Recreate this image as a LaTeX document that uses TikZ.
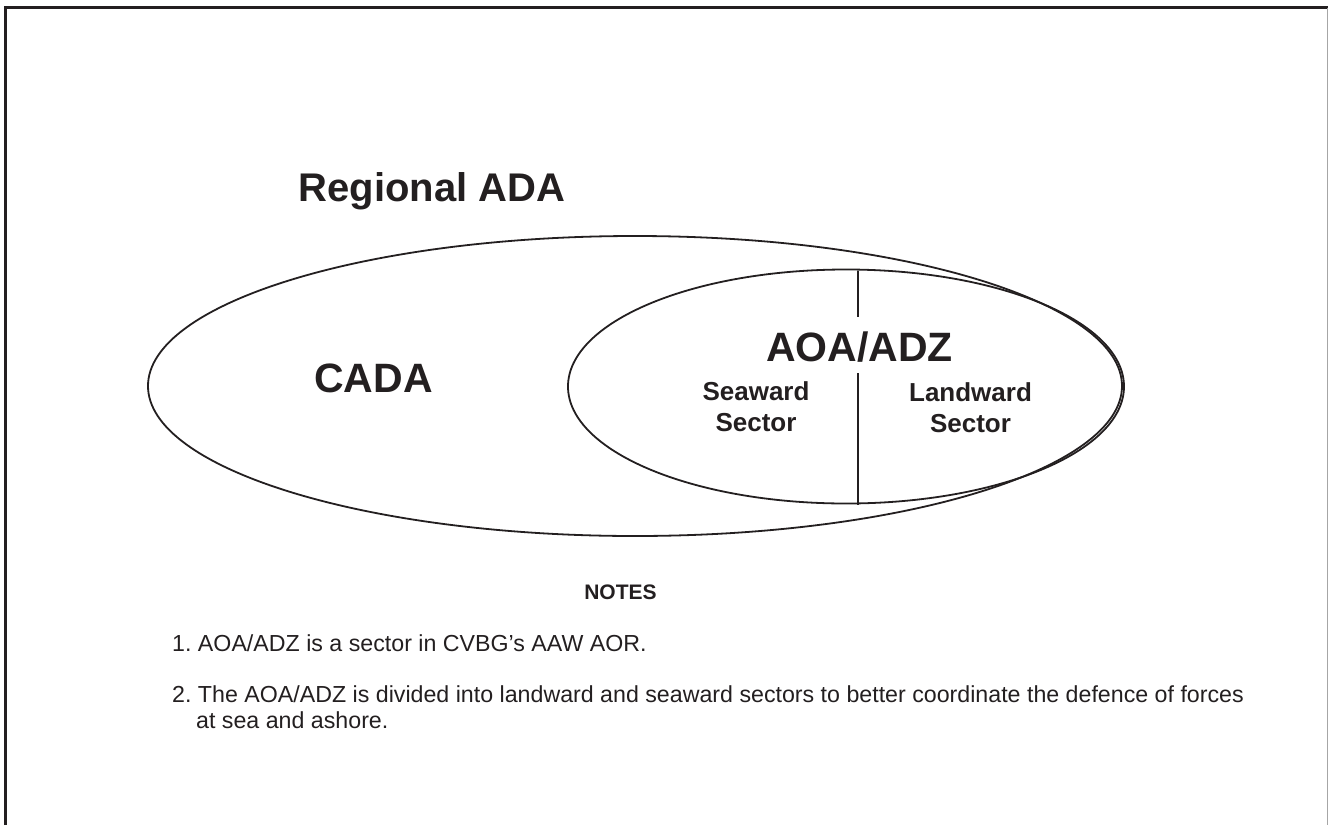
\documentclass[tikz,border=0pt]{standalone}
\usepackage{fontspec}
\setmainfont{Liberation Sans}
\usetikzlibrary{shapes.geometric}
\definecolor{ink}{HTML}{231F20}
\frenchspacing
\begin{document}
\begin{tikzpicture}[x=1pt,y=-1pt,
  zone/.style={ellipse,draw=ink,line width=1.8pt,inner sep=0pt},
  biglabel/.style={font=\fontsize{41}{45}\selectfont\bfseries,text=ink,inner sep=0pt,anchor=base},
  sectorlabel/.style={font=\fontsize{26}{31}\selectfont\bfseries,text=ink,inner sep=0pt,align=center,anchor=base},
  note/.style={font=\fontsize{23.2}{26}\selectfont,text=ink,inner sep=0pt,anchor=base west}]
  \useasboundingbox (0,0) rectangle (1328,825);
  % page frame
  \draw[line width=3pt,color=ink] (5.5,825) -- (5.5,7.5) -- (1328,7.5);
  \draw[line width=1pt,color=black!35] (1327,7.5) -- (1327,825);

  % nested areas
  \node[zone,minimum width=974pt,minimum height=300pt] (ada) at (635,386) {};
  \node[zone,minimum width=556pt,minimum height=234pt] (aoa) at (846,386.5) {};

  % seaward / landward divider
  \coordinate (dtop) at (858,271);
  \coordinate (dgapa) at (858,317);
  \coordinate (dgapb) at (858,373);
  \coordinate (dbot) at (858,505);
  \draw[ink,line width=1.8pt] (dtop) -- (dgapa);
  \draw[ink,line width=1.8pt] (dgapb) -- (dbot);

  % labels
  \node[biglabel,font=\fontsize{40}{44}\selectfont\bfseries] (regional) at (432,201) {Regional ADA};
  \node[biglabel] (cada) at (373.5,392) {CADA};
  \node[biglabel] (aoalbl) at (859.5,361) {AOA/ADZ};
  \node[sectorlabel] (seaward) at (756,431) {Seaward\\Sector};
  \node[sectorlabel] (landward) at (970.5,432) {Landward\\Sector};

  % notes
  \node[font=\fontsize{21}{24}\selectfont\bfseries,text=ink,inner sep=0pt,anchor=base] (notes) at (620.5,599) {NOTES};
  \node[note] (n1) at (172,651) {1. AOA/ADZ is a sector in CVBG’s AAW AOR.};
  \node[note] (n2) at (172,702) {2. The AOA/ADZ is divided into landward and seaward sectors to better coordinate the defence of forces};
  \node[note] (n2b) at (196,728) {at sea and ashore.};
\end{tikzpicture}
\end{document}
